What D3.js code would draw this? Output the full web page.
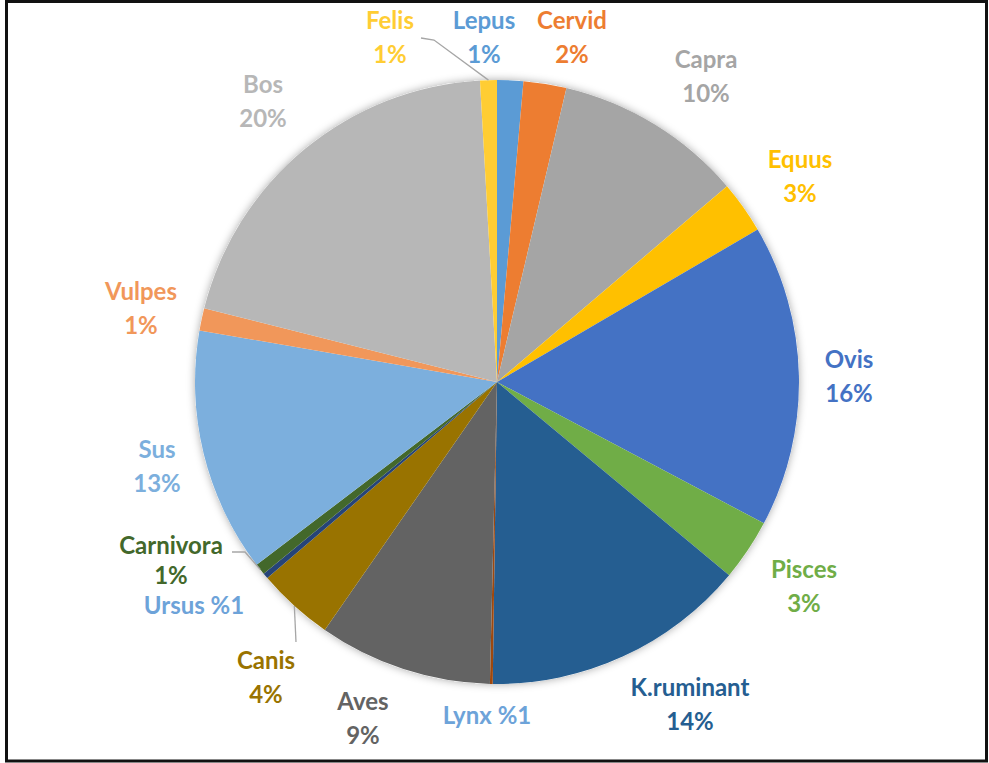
<!DOCTYPE html>
<html><head><meta charset="utf-8">
<script src="https://cdn.jsdelivr.net/npm/d3@7"></script>
<style>html,body{margin:0;padding:0;background:#fff;}</style>
</head><body>
<script>
const categories = ["Lepus","Cervid","Capra","Equus","Ovis","Pisces","K.ruminant","Lynx","Aves","Canis","Ursus","Carnivora","Sus","Vulpes","Bos","Felis"];
const values = [1.4,2.3,10.1,2.8,16.2,3.3,14.2,0.15,9.3,4.1,0.3,0.6,13.1,1.2,20.2,0.9];
const pctLabels = ["1%","2%","10%","3%","16%","3%","14%","%1","9%","4%","%1","1%","13%","1%","20%","1%"];
const colors = ["#5B9BD5","#ED7D31","#A5A5A5","#FFC000","#4472C4","#70AD47","#255E91","#9E480E","#636363","#997300","#264478","#43682B","#7CAFDD","#F1975A","#B7B7B7","#FFCD33"];
const labelColors = ["#5B9BD5","#ED7D31","#A5A5A5","#FFC000","#4472C4","#70AD47","#255E91","#6DA3D9","#636363","#997300","#6DA3D9","#43682B","#7CAFDD","#F1975A","#B7B7B7","#FFCD33"];
// label layout (offset of first-line centre from pie centre; single = name and % on one line)
const labelLayout = [
  {dx:-13,dy:-361},{dx:75,dy:-361},{dx:209,dy:-322},{dx:303,dy:-222},{dx:352,dy:-22},
  {dx:307,dy:188},{dx:193,dy:306},{dx:-10,dy:334,single:true},{dx:-134,dy:320},{dx:-231,dy:279},
  {dx:-303,dy:224,single:true},{dx:-326,dy:164,gap:30},{dx:-340,dy:68},{dx:-356,dy:-90},{dx:-234,dy:-297},{dx:-107,dy:-361}
];
const leaders = {15:[[-76,-344],[-63,-342]], 9:[[-201,260]], 11:[[-265,170],[-252,170]]};

const W=989,H=763, cx=497, cy=382, R=302;
const svg = d3.select("body").append("svg").attr("width",W).attr("height",H);
const defs = svg.append("defs");
const f = defs.append("filter").attr("id","sh").attr("x","-10%").attr("y","-10%").attr("width","120%").attr("height","120%");
f.append("feDropShadow").attr("dx",0).attr("dy",0).attr("stdDeviation",4).attr("flood-color","#000").attr("flood-opacity",0.35);

svg.append("rect").attr("x",6.5).attr("y",1.5).attr("width",980).attr("height",759.5)
  .attr("fill","#fff").attr("stroke","#111").attr("stroke-width",3);

const pie = d3.pie().sort(null).value(d=>d);
const arcs = pie(values);
const arc = d3.arc().innerRadius(0).outerRadius(R);
const g = svg.append("g").attr("transform",`translate(${cx},${cy})`);
g.append("circle").attr("r",R).attr("fill","#fff").attr("filter","url(#sh)");
g.selectAll("path.s").data(arcs).join("path").attr("class","s")
  .attr("d",arc).attr("fill",(d,i)=>colors[i]);

// leader lines
Object.keys(leaders).forEach(k=>{
  const i=+k, a=arcs[i], mid=(a.startAngle+a.endAngle)/2;
  const end=[R*Math.sin(mid), -R*Math.cos(mid)];
  const pts = leaders[k].concat([end]);
  g.append("path").attr("d",d3.line()(pts)).attr("fill","none").attr("stroke","#A6A6A6").attr("stroke-width",1.3);
});

const font = "Lato, 'Open Sans', sans-serif";
categories.forEach((c,i)=>{
  const L = labelLayout[i];
  const t = g.append("text").attr("x",L.dx).attr("text-anchor","middle")
    .attr("font-family",font).attr("font-weight","bold").attr("font-size",24)
    .attr("fill",labelColors[i]);
  if (L.single) {
    t.attr("y",L.dy).attr("dy","0.35em").text(c+" "+pctLabels[i]);
  } else {
    t.append("tspan").attr("x",L.dx).attr("y",L.dy).attr("dy","0.35em").text(c);
    t.append("tspan").attr("x",L.dx).attr("y",L.dy+(L.gap||34)).attr("dy","0.35em").text(pctLabels[i]);
  }
});
</script>
</body></html>
